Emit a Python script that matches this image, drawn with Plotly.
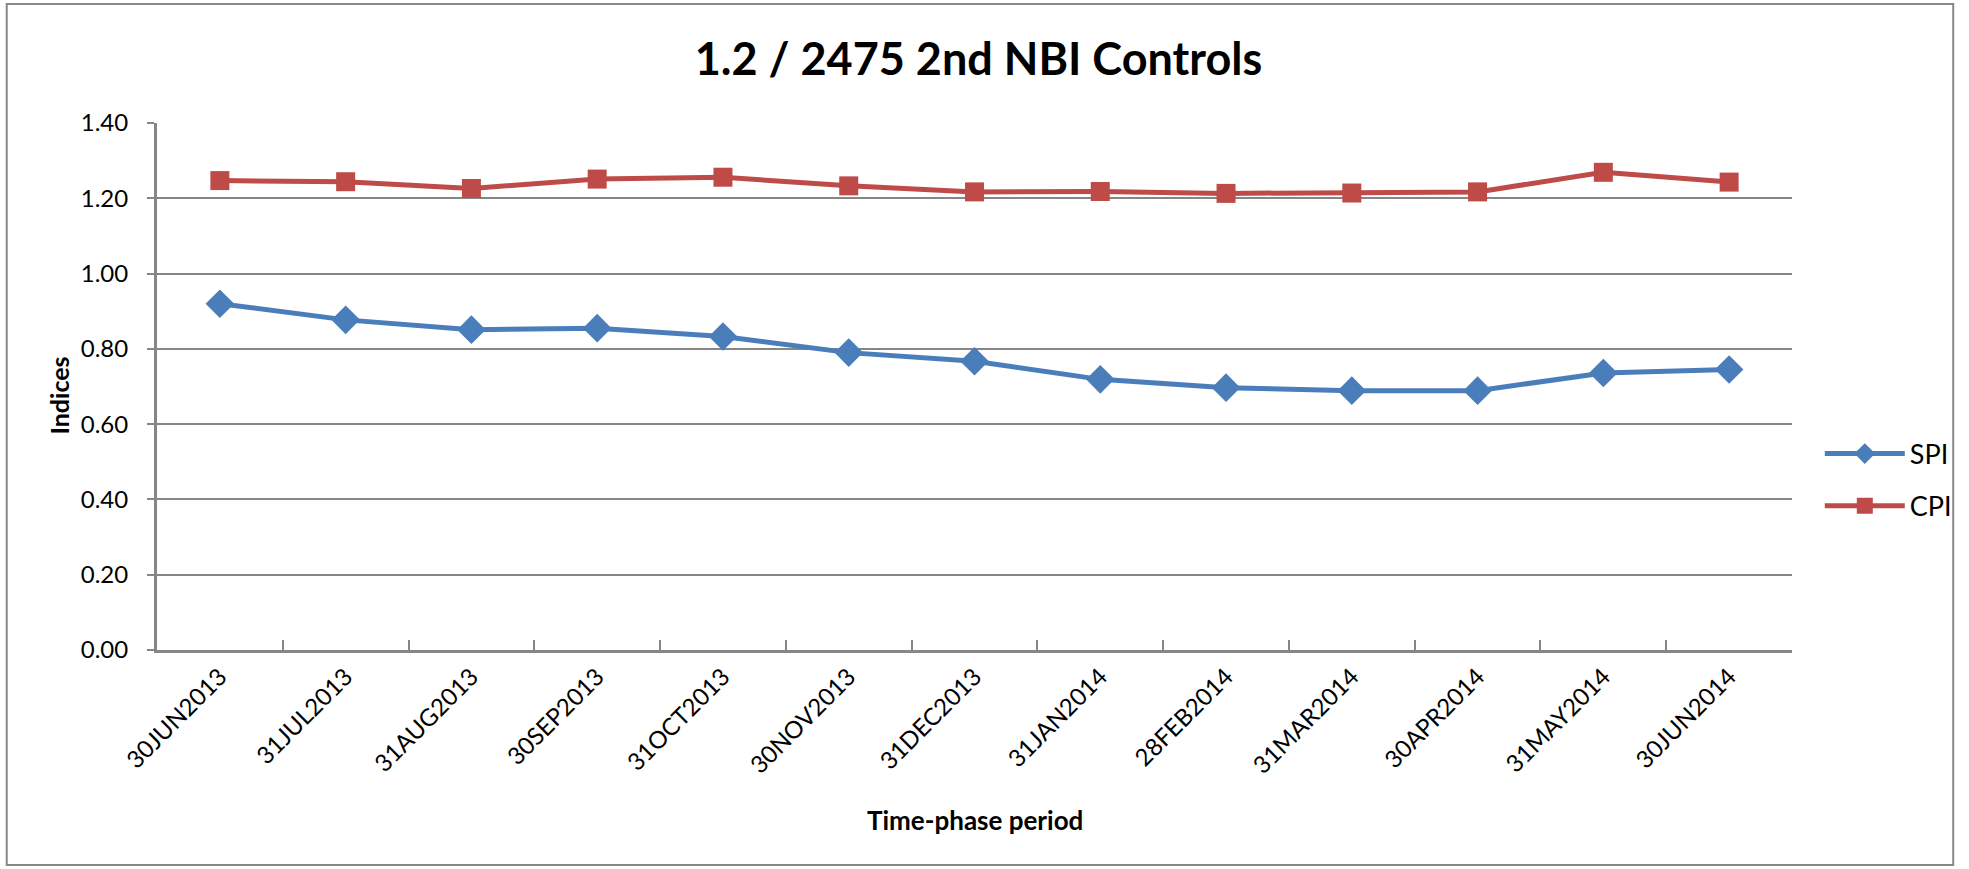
import plotly.graph_objects as go

periods = ["30JUN2013", "31JUL2013", "31AUG2013", "30SEP2013", "31OCT2013", "30NOV2013",
           "31DEC2013", "31JAN2014", "28FEB2014", "31MAR2014", "30APR2014", "31MAY2014",
           "30JUN2014"]
spi = [0.92, 0.877, 0.851, 0.855, 0.833, 0.790, 0.767, 0.719, 0.697, 0.689, 0.689, 0.736, 0.745]
cpi = [1.247, 1.244, 1.226, 1.251, 1.256, 1.233, 1.217, 1.218, 1.213, 1.214, 1.217, 1.269, 1.243]

W, H = 1969, 869
L, R, T, B = 157, 169, 123, 219
pw, ph = W - L - R, H - T - B

FONT = "Lato, 'Open Sans', sans-serif"
GRID = "#868686"

fig = go.Figure()
fig.add_trace(go.Scatter(x=periods, y=spi, name="SPI", mode="lines+markers", legendgroup="spi",
                         line=dict(color="#4A7EBB", width=5),
                         marker=dict(symbol="diamond", size=22, color="#4A7EBB")))
fig.add_trace(go.Scatter(x=periods, y=cpi, name="CPI", mode="lines+markers", legendgroup="cpi",
                         line=dict(color="#BE4B48", width=5),
                         marker=dict(symbol="square", size=19, color="#BE4B48")))

fig.update_layout(
    width=W, height=H,
    margin=dict(l=L, r=R, t=T, b=B),
    paper_bgcolor="white", plot_bgcolor="white",
    font=dict(family=FONT, color="black", size=22),
    title=dict(text="<b>1.2 / 2475 2nd NBI Controls</b>", x=(L + pw / 2) / W, xanchor="center",
               y=1 - 59 / H, yanchor="middle", yref="container",
               font=dict(size=45, family=FONT, color="black")),
    legend=dict(x=1.017, y=(650 - 480) / ph, xanchor="left", yanchor="middle",
                bgcolor="rgba(0,0,0,0)", font=dict(size=27, family=FONT),
                tracegroupgap=14, itemwidth=80),
    showlegend=True,
)

fig.update_xaxes(type="category", range=[-0.5, len(periods) - 0.5], tickangle=-45,
                 tickson="boundaries", ticks="inside", ticklen=10, tickcolor=GRID, tickwidth=1.5,
                 showline=True, linecolor=GRID, linewidth=3, showgrid=False,
                 tickfont=dict(size=24, family=FONT))
fig.update_yaxes(range=[0, 1.4], dtick=0.2, tickformat=".2f",
                 ticks="outside", ticklen=7, tickcolor=GRID, tickwidth=1.5,
                 showline=True, linecolor=GRID, linewidth=3,
                 showgrid=True, gridcolor=GRID, gridwidth=2, zeroline=False,
                 ticklabelstandoff=14,
                 tickfont=dict(size=24, family=FONT))

# axis titles placed as annotations for exact positioning
fig.add_annotation(text="<b>Time-phase period</b>", xref="paper", yref="paper",
                   x=0.5, y=(650 - 820) / ph, xanchor="center", yanchor="middle",
                   showarrow=False, font=dict(size=26, family=FONT))
fig.add_annotation(text="<b>Indices</b>", xref="paper", yref="paper", textangle=-90,
                   x=(59 - L) / pw, y=(650 - 395) / ph, xanchor="center", yanchor="middle",
                   showarrow=False, font=dict(size=25, family=FONT))

# outer chart border
fig.add_shape(type="rect", xref="paper", yref="paper",
              x0=(6 - L) / pw, x1=(1962 - L) / pw, y0=(650 - 865) / ph, y1=(650 - 4) / ph,
              line=dict(color="#888888", width=2), fillcolor="rgba(0,0,0,0)", layer="below")

fig.write_html("out.html", config={"displayModeBar": False},
               post_script="document.body.style.margin='0';")
